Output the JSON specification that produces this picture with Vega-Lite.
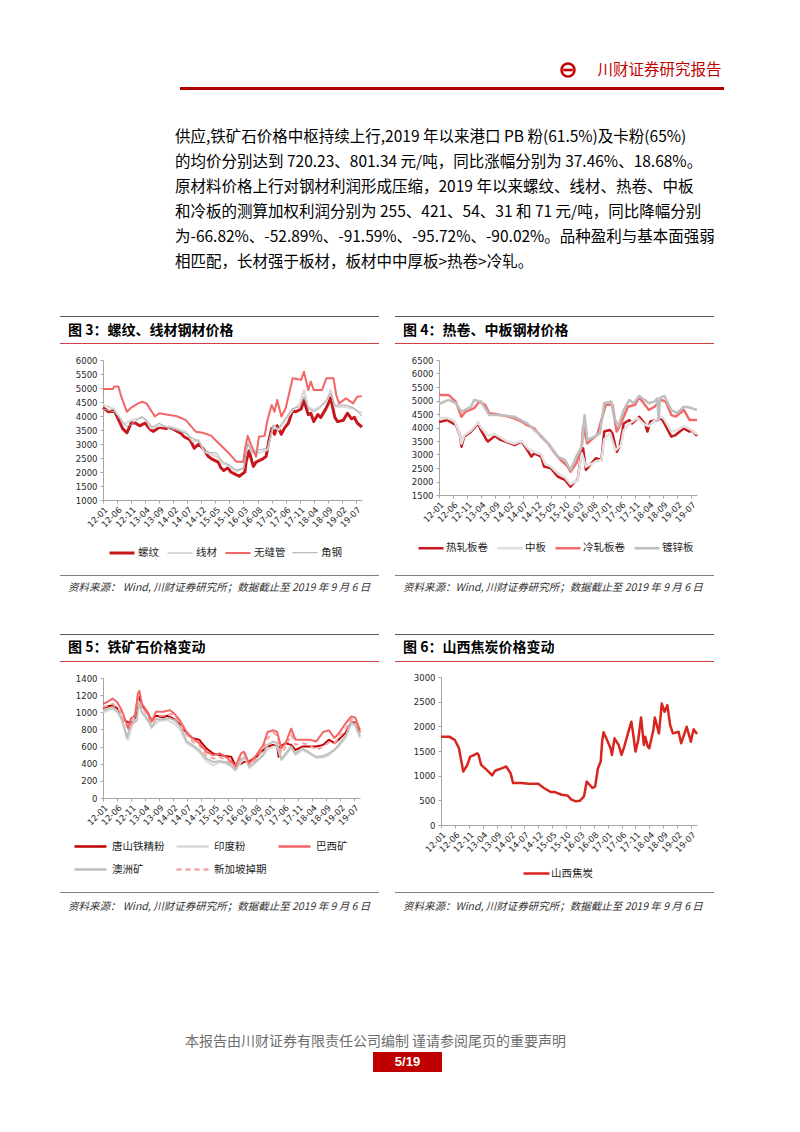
{
"$schema":"https://vega.github.io/schema/vega-lite/v6.json",
"padding":0,
"background":"white",
"spacing":0,
"resolve":{"scale":{"color":"independent","strokeWidth":"independent","strokeDash":"independent"},"legend":{"color":"independent","strokeWidth":"independent","strokeDash":"independent"}},
"config":{
 "view":{"stroke":null},
 "concat":{"spacing":0},
 "axis":{"grid":false,"title":null,"domainColor":"#A6A6A6","tickColor":"#A6A6A6","tickSize":3,"labelFont":"DejaVu Sans","labelFontSize":8.5,"labelColor":"#262626","labelOverlap":false,"labelFlush":false},
 "axisX":{"labelAngle":-45,"labelPadding":2},
 "axisY":{"labelPadding":3,"format":"d"},
 "legend":{"title":null,"labelFont":"Noto Sans CJK SC","labelFontSize":10.5,"labelColor":"#262626","symbolType":"stroke","labelOffset":2,"columnPadding":4,"rowPadding":10,"symbolStrokeWidth":2.5}
},
"vconcat":[
 {"width":800,"height":61,"data":{"values":[]},"mark":"point"},
 {"hconcat":[
   {"width":559,"height":18,"data":{"values":[]},"mark":"point"},
   {"width":18,"height":18,"data":{"values":[{}]},"layer":[
     {"mark":{"type":"point","shape":"circle","filled":true,"color":"#C00000","size":240,"opacity":1}},
     {"mark":{"type":"point","shape":"circle","filled":true,"color":"#FFFFFF","size":110,"opacity":1}},
     {"mark":{"type":"point","shape":"M-1,-0.28L1,-0.28L1,0.28L-1,0.28Z","filled":true,"color":"#C00000","size":90,"opacity":1}}
   ]},
   {"width":18,"height":18,"data":{"values":[]},"mark":"point"},
   {"width":129,"height":18,"data":{"values":[{"t":"川财证券研究报告"}]},"mark":{"type":"text","font":"Noto Sans CJK SC","fontSize":15.5,"color":"#C00000","align":"center","baseline":"middle"},"encoding":{"text":{"field":"t"}}}
 ],"spacing":0},
 {"width":800,"height":8,"data":{"values":[]},"mark":"point"},
 {"hconcat":[
   {"width":180,"height":3,"data":{"values":[]},"mark":"point"},
   {"width":544,"height":3,"view":{"fill":"#B00000"},"data":{"values":[]},"mark":"point"}
 ],"spacing":0},
 {"width":800,"height":34,"data":{"values":[]},"mark":"point"},
 {"hconcat":[
   {"width":175,"height":150,"data":{"values":[]},"mark":"point"},
   {"width":545,"height":150,
    "data":{"values":[
     {"i":1,"t":"供应,铁矿石价格中枢持续上行,2019 年以来港口 PB 粉(61.5%)及卡粉(65%)"},
     {"i":2,"t":"的均价分别达到 720.23、801.34 元/吨，同比涨幅分别为 37.46%、18.68%。"},
     {"i":3,"t":"原材料价格上行对钢材利润形成压缩，2019 年以来螺纹、线材、热卷、中板"},
     {"i":4,"t":"和冷板的测算加权利润分别为 255、421、54、31 和 71 元/吨，同比降幅分别"},
     {"i":5,"t":"为-66.82%、-52.89%、-91.59%、-95.72%、-90.02%。品种盈利与基本面强弱"},
     {"i":6,"t":"相匹配，长材强于板材，板材中中厚板>热卷>冷轧。"}
    ]},
    "mark":{"type":"text","align":"left","baseline":"middle","font":"Noto Sans CJK SC","fontSize":15.5,"color":"#000000"},
    "encoding":{"text":{"field":"t"},
      "y":{"field":"i","type":"ordinal","axis":null,"scale":{"type":"band","paddingInner":0,"paddingOuter":0}},
      "x":{"datum":0,"scale":{"domain":[0,1]},"axis":null}}}
 ],"spacing":0},
 {"width":800,"height":42,"data":{"values":[]},"mark":"point"},
 {"hconcat":[
   {"width":60,"height":284,"data":{"values":[]},"mark":"point"},
   {"vconcat":[
     {"width":319,"height":1,"view":{"fill":"#595959"},"data":{"values":[]},"mark":"point"},
     {"width":319,"height":26,"data":{"values":[{"t":"图 3：螺纹、线材钢材价格"}]},"mark":{"type":"text","align":"left","baseline":"middle","dx":8,"dy":1,"font":"Noto Sans CJK SC","fontSize":14,"fontWeight":"bold","color":"#000000"},"encoding":{"text":{"field":"t"},"x":{"datum":0,"scale":{"domain":[0,1]},"axis":null}}},
     {"width":319,"height":1,"view":{"fill":"#D04040"},"data":{"values":[]},"mark":"point"},
     {"width":319,"height":231,
      "data":{"values":[
{"d":"2012-01-01","s":"螺纹","v":4300},{"d":"2012-03-01","s":"螺纹","v":4150},{"d":"2012-05-01","s":"螺纹","v":4200},{"d":"2012-08-01","s":"螺纹","v":3550},{"d":"2012-09-16","s":"螺纹","v":3400},{"d":"2012-11-01","s":"螺纹","v":3750},{"d":"2012-12-16","s":"螺纹","v":3750},{"d":"2013-02-01","s":"螺纹","v":3650},{"d":"2013-04-01","s":"螺纹","v":3750},{"d":"2013-06-01","s":"螺纹","v":3500},{"d":"2013-07-01","s":"螺纹","v":3450},{"d":"2013-09-01","s":"螺纹","v":3600},{"d":"2013-11-16","s":"螺纹","v":3550},{"d":"2013-12-16","s":"螺纹","v":3600},{"d":"2014-02-16","s":"螺纹","v":3500},{"d":"2014-04-16","s":"螺纹","v":3400},{"d":"2014-06-01","s":"螺纹","v":3250},{"d":"2014-08-01","s":"螺纹","v":3150},{"d":"2014-09-16","s":"螺纹","v":2850},{"d":"2014-11-01","s":"螺纹","v":3000},{"d":"2014-12-16","s":"螺纹","v":2850},{"d":"2015-02-16","s":"螺纹","v":2550},{"d":"2015-04-01","s":"螺纹","v":2450},{"d":"2015-06-01","s":"螺纹","v":2350},{"d":"2015-07-01","s":"螺纹","v":2150},{"d":"2015-08-01","s":"螺纹","v":2050},{"d":"2015-09-16","s":"螺纹","v":2150},{"d":"2015-10-16","s":"螺纹","v":2000},{"d":"2015-12-16","s":"螺纹","v":1900},{"d":"2016-01-16","s":"螺纹","v":1850},{"d":"2016-03-16","s":"螺纹","v":2000},{"d":"2016-04-01","s":"螺纹","v":2400},{"d":"2016-05-01","s":"螺纹","v":2750},{"d":"2016-06-16","s":"螺纹","v":2200},{"d":"2016-07-16","s":"螺纹","v":2350},{"d":"2016-09-16","s":"螺纹","v":2450},{"d":"2016-11-01","s":"螺纹","v":2550},{"d":"2016-12-01","s":"螺纹","v":3100},{"d":"2017-01-01","s":"螺纹","v":3550},{"d":"2017-02-01","s":"螺纹","v":3350},{"d":"2017-03-01","s":"螺纹","v":3650},{"d":"2017-04-16","s":"螺纹","v":3350},{"d":"2017-05-16","s":"螺纹","v":3550},{"d":"2017-07-01","s":"螺纹","v":3750},{"d":"2017-08-16","s":"螺纹","v":4200},{"d":"2017-09-16","s":"螺纹","v":4150},{"d":"2017-11-16","s":"螺纹","v":4250},{"d":"2017-12-16","s":"螺纹","v":4550},{"d":"2018-02-01","s":"螺纹","v":4050},{"d":"2018-03-01","s":"螺纹","v":4100},{"d":"2018-04-01","s":"螺纹","v":3800},{"d":"2018-05-16","s":"螺纹","v":4050},{"d":"2018-06-16","s":"螺纹","v":3950},{"d":"2018-08-01","s":"螺纹","v":4200},{"d":"2018-09-01","s":"螺纹","v":4400},{"d":"2018-10-01","s":"螺纹","v":4650},{"d":"2018-11-16","s":"螺纹","v":3950},{"d":"2018-12-16","s":"螺纹","v":3800},{"d":"2019-02-16","s":"螺纹","v":3850},{"d":"2019-04-01","s":"螺纹","v":4100},{"d":"2019-05-16","s":"螺纹","v":3900},{"d":"2019-06-16","s":"螺纹","v":3950},{"d":"2019-07-16","s":"螺纹","v":3750},{"d":"2019-09-06","s":"螺纹","v":3600},
{"d":"2012-01-01","s":"线材","v":4400},{"d":"2012-05-01","s":"线材","v":4250},{"d":"2012-08-16","s":"线材","v":3700},{"d":"2012-11-01","s":"线材","v":3850},{"d":"2013-02-16","s":"线材","v":3950},{"d":"2013-04-16","s":"线材","v":3850},{"d":"2013-06-01","s":"线材","v":3560},{"d":"2013-09-01","s":"线材","v":3650},{"d":"2013-12-16","s":"线材","v":3620},{"d":"2014-03-01","s":"线材","v":3560},{"d":"2014-06-16","s":"线材","v":3440},{"d":"2014-09-01","s":"线材","v":3080},{"d":"2014-11-01","s":"线材","v":3150},{"d":"2015-01-01","s":"线材","v":2730},{"d":"2015-05-16","s":"线材","v":2550},{"d":"2015-07-16","s":"线材","v":2310},{"d":"2015-10-01","s":"线材","v":2200},{"d":"2015-12-16","s":"线材","v":2010},{"d":"2016-03-01","s":"线材","v":2130},{"d":"2016-04-16","s":"线材","v":3080},{"d":"2016-06-01","s":"线材","v":2670},{"d":"2016-09-01","s":"线材","v":2700},{"d":"2016-11-16","s":"线材","v":2790},{"d":"2017-01-16","s":"线材","v":3620},{"d":"2017-03-16","s":"线材","v":3500},{"d":"2017-06-01","s":"线材","v":3860},{"d":"2017-08-16","s":"线材","v":4210},{"d":"2017-11-01","s":"线材","v":4450},{"d":"2017-12-16","s":"线材","v":4930},{"d":"2018-02-01","s":"线材","v":4330},{"d":"2018-04-01","s":"线材","v":4210},{"d":"2018-06-01","s":"线材","v":4330},{"d":"2018-08-16","s":"线材","v":4510},{"d":"2018-10-01","s":"线材","v":4930},{"d":"2018-11-16","s":"线材","v":4330},{"d":"2019-02-16","s":"线材","v":4330},{"d":"2019-06-01","s":"线材","v":4270},{"d":"2019-09-06","s":"线材","v":4100},
{"d":"2012-01-01","s":"无缝管","v":4960},{"d":"2012-04-16","s":"无缝管","v":4960},{"d":"2012-05-01","s":"无缝管","v":5050},{"d":"2012-06-16","s":"无缝管","v":5050},{"d":"2012-07-16","s":"无缝管","v":4700},{"d":"2012-09-16","s":"无缝管","v":4150},{"d":"2012-11-01","s":"无缝管","v":4300},{"d":"2013-01-16","s":"无缝管","v":4450},{"d":"2013-03-01","s":"无缝管","v":4510},{"d":"2013-04-16","s":"无缝管","v":4450},{"d":"2013-05-16","s":"无缝管","v":4300},{"d":"2013-07-16","s":"无缝管","v":3980},{"d":"2013-09-01","s":"无缝管","v":4100},{"d":"2013-11-16","s":"无缝管","v":4050},{"d":"2014-03-01","s":"无缝管","v":4000},{"d":"2014-05-16","s":"无缝管","v":3900},{"d":"2014-06-16","s":"无缝管","v":3850},{"d":"2014-10-01","s":"无缝管","v":3440},{"d":"2014-12-16","s":"无缝管","v":3400},{"d":"2015-03-16","s":"无缝管","v":3300},{"d":"2015-05-16","s":"无缝管","v":3100},{"d":"2015-07-16","s":"无缝管","v":2900},{"d":"2015-10-01","s":"无缝管","v":2650},{"d":"2015-12-16","s":"无缝管","v":2370},{"d":"2016-03-01","s":"无缝管","v":2370},{"d":"2016-03-16","s":"无缝管","v":2800},{"d":"2016-04-16","s":"无缝管","v":3290},{"d":"2016-05-16","s":"无缝管","v":3020},{"d":"2016-07-16","s":"无缝管","v":2550},{"d":"2016-08-16","s":"无缝管","v":3260},{"d":"2016-10-16","s":"无缝管","v":3290},{"d":"2016-11-16","s":"无缝管","v":3850},{"d":"2017-01-01","s":"无缝管","v":4390},{"d":"2017-02-01","s":"无缝管","v":4150},{"d":"2017-03-01","s":"无缝管","v":4570},{"d":"2017-04-16","s":"无缝管","v":3980},{"d":"2017-06-01","s":"无缝管","v":4270},{"d":"2017-08-16","s":"无缝管","v":5350},{"d":"2017-10-16","s":"无缝管","v":5310},{"d":"2017-11-16","s":"无缝管","v":5290},{"d":"2017-12-16","s":"无缝管","v":5580},{"d":"2018-02-01","s":"无缝管","v":4930},{"d":"2018-03-01","s":"无缝管","v":5230},{"d":"2018-04-01","s":"无缝管","v":4930},{"d":"2018-07-01","s":"无缝管","v":4930},{"d":"2018-08-16","s":"无缝管","v":5350},{"d":"2018-11-01","s":"无缝管","v":5350},{"d":"2018-12-01","s":"无缝管","v":4750},{"d":"2019-01-01","s":"无缝管","v":4450},{"d":"2019-03-16","s":"无缝管","v":4630},{"d":"2019-06-01","s":"无缝管","v":4450},{"d":"2019-07-16","s":"无缝管","v":4690},{"d":"2019-09-06","s":"无缝管","v":4710},
{"d":"2012-01-01","s":"角钢","v":4250},{"d":"2012-05-01","s":"角钢","v":4150},{"d":"2012-09-16","s":"角钢","v":3620},{"d":"2012-11-01","s":"角钢","v":3700},{"d":"2013-03-01","s":"角钢","v":3980},{"d":"2013-04-16","s":"角钢","v":3850},{"d":"2013-06-16","s":"角钢","v":3600},{"d":"2013-09-01","s":"角钢","v":3740},{"d":"2013-12-01","s":"角钢","v":3560},{"d":"2014-03-01","s":"角钢","v":3500},{"d":"2014-06-16","s":"角钢","v":3380},{"d":"2014-09-01","s":"角钢","v":3200},{"d":"2014-11-01","s":"角钢","v":3100},{"d":"2015-01-16","s":"角钢","v":2730},{"d":"2015-05-16","s":"角钢","v":2670},{"d":"2015-07-16","s":"角钢","v":2370},{"d":"2015-10-01","s":"角钢","v":2250},{"d":"2015-12-16","s":"角钢","v":2070},{"d":"2016-03-01","s":"角钢","v":2130},{"d":"2016-04-16","s":"角钢","v":3000},{"d":"2016-06-01","s":"角钢","v":2730},{"d":"2016-11-16","s":"角钢","v":2850},{"d":"2017-01-16","s":"角钢","v":3680},{"d":"2017-03-16","s":"角钢","v":3560},{"d":"2017-06-01","s":"角钢","v":3920},{"d":"2017-08-16","s":"角钢","v":4270},{"d":"2017-11-01","s":"角钢","v":4330},{"d":"2017-12-16","s":"角钢","v":4690},{"d":"2018-02-01","s":"角钢","v":4270},{"d":"2018-04-01","s":"角钢","v":4150},{"d":"2018-06-01","s":"角钢","v":4270},{"d":"2018-08-16","s":"角钢","v":4570},{"d":"2018-10-01","s":"角钢","v":4810},{"d":"2018-11-16","s":"角钢","v":4390},{"d":"2019-03-16","s":"角钢","v":4390},{"d":"2019-06-01","s":"角钢","v":4300},{"d":"2019-09-06","s":"角钢","v":4000}
      ]},
      "mark":{"type":"line","strokeJoin":"round"},
      "encoding":{
        "x":{"field":"d","type":"temporal","scale":{"domain":[{"year":2012,"month":1,"date":1},{"year":2019,"month":9,"date":6}],"range":[43,302]},
             "axis":{"orient":"bottom","offset":-75,"format":"%y-%m","labelAngle":-45,
               "values":[{"year":2012,"month":1,"date":1},{"year":2012,"month":6,"date":1},{"year":2012,"month":11,"date":1},{"year":2013,"month":4,"date":1},{"year":2013,"month":9,"date":1},{"year":2014,"month":2,"date":1},{"year":2014,"month":7,"date":1},{"year":2014,"month":12,"date":1},{"year":2015,"month":5,"date":1},{"year":2015,"month":10,"date":1},{"year":2016,"month":3,"date":1},{"year":2016,"month":8,"date":1},{"year":2017,"month":1,"date":1},{"year":2017,"month":6,"date":1},{"year":2017,"month":11,"date":1},{"year":2018,"month":4,"date":1},{"year":2018,"month":9,"date":1},{"year":2019,"month":2,"date":1},{"year":2019,"month":7,"date":1}]}},
        "y":{"field":"v","type":"quantitative","scale":{"domain":[1000,6000],"range":[156,16],"nice":false,"zero":false},"axis":{"orient":"left","offset":-43,"format":"d","values":[1000,1500,2000,2500,3000,3500,4000,4500,5000,5500,6000]}},
        "color":{"field":"s","type":"nominal","scale":{"domain":["螺纹","线材","无缝管","角钢"],"range":["#C8161D","#D9D9D9","#F26666","#A6A6A6"]},"legend":{"orient":"none","legendX":48,"legendY":195,"columns":4,"direction":"horizontal","symbolSize":625}},
        "strokeWidth":{"field":"s","type":"nominal","scale":{"type":"ordinal","domain":["螺纹","线材","无缝管","角钢"],"range":[3,2,2,1]},"legend":{"orient":"none","legendX":48,"legendY":195,"columns":4,"direction":"horizontal","symbolSize":625}}
      }},
     {"width":319,"height":1,"view":{"fill":"#808080"},"data":{"values":[]},"mark":"point"},
     {"width":319,"height":24,"data":{"values":[{"t":"资料来源： Wind, 川财证券研究所；数据截止至 2019 年 9 月 6 日"}]},"mark":{"type":"text","align":"left","baseline":"middle","dx":8,"font":"Noto Sans CJK SC","fontSize":10.5,"fontStyle":"italic","color":"#333333"},"encoding":{"text":{"field":"t"},"x":{"datum":0,"scale":{"domain":[0,1]},"axis":null}}}
   ],"spacing":0,"resolve":{"scale":{"color":"independent","strokeWidth":"independent","strokeDash":"independent"},"legend":{"color":"independent","strokeWidth":"independent","strokeDash":"independent"}}},
   {"width":16,"height":284,"data":{"values":[]},"mark":"point"},
   {"vconcat":[
     {"width":319,"height":1,"view":{"fill":"#595959"},"data":{"values":[]},"mark":"point"},
     {"width":319,"height":26,"data":{"values":[{"t":"图 4：热卷、中板钢材价格"}]},"mark":{"type":"text","align":"left","baseline":"middle","dx":8,"dy":1,"font":"Noto Sans CJK SC","fontSize":14,"fontWeight":"bold","color":"#000000"},"encoding":{"text":{"field":"t"},"x":{"datum":0,"scale":{"domain":[0,1]},"axis":null}}},
     {"width":319,"height":1,"view":{"fill":"#D04040"},"data":{"values":[]},"mark":"point"},
     {"width":319,"height":231,
      "data":{"values":[
{"d":"2012-01-01","s":"热轧板卷","v":4200},{"d":"2012-04-01","s":"热轧板卷","v":4280},{"d":"2012-06-01","s":"热轧板卷","v":4150},{"d":"2012-07-01","s":"热轧板卷","v":4100},{"d":"2012-08-16","s":"热轧板卷","v":3720},{"d":"2012-09-01","s":"热轧板卷","v":3290},{"d":"2012-10-01","s":"热轧板卷","v":3660},{"d":"2012-12-16","s":"热轧板卷","v":3850},{"d":"2013-03-01","s":"热轧板卷","v":4150},{"d":"2013-04-01","s":"热轧板卷","v":3900},{"d":"2013-06-01","s":"热轧板卷","v":3540},{"d":"2013-06-16","s":"热轧板卷","v":3480},{"d":"2013-09-01","s":"热轧板卷","v":3690},{"d":"2013-11-01","s":"热轧板卷","v":3540},{"d":"2014-01-16","s":"热轧板卷","v":3450},{"d":"2014-04-01","s":"热轧板卷","v":3350},{"d":"2014-06-16","s":"热轧板卷","v":3480},{"d":"2014-08-16","s":"热轧板卷","v":3170},{"d":"2014-10-01","s":"热轧板卷","v":2920},{"d":"2014-11-01","s":"热轧板卷","v":3040},{"d":"2015-01-16","s":"热轧板卷","v":2920},{"d":"2015-02-16","s":"热轧板卷","v":2550},{"d":"2015-05-01","s":"热轧板卷","v":2490},{"d":"2015-07-16","s":"热轧板卷","v":2180},{"d":"2015-10-01","s":"热轧板卷","v":2060},{"d":"2015-12-01","s":"热轧板卷","v":1810},{"d":"2016-01-16","s":"热轧板卷","v":1990},{"d":"2016-02-16","s":"热轧板卷","v":2060},{"d":"2016-04-01","s":"热轧板卷","v":3170},{"d":"2016-04-16","s":"热轧板卷","v":3230},{"d":"2016-05-16","s":"热轧板卷","v":2430},{"d":"2016-07-16","s":"热轧板卷","v":2670},{"d":"2016-09-01","s":"热轧板卷","v":2860},{"d":"2016-11-01","s":"热轧板卷","v":2800},{"d":"2016-12-01","s":"热轧板卷","v":3850},{"d":"2017-02-01","s":"热轧板卷","v":3910},{"d":"2017-03-01","s":"热轧板卷","v":3780},{"d":"2017-04-16","s":"热轧板卷","v":3100},{"d":"2017-05-16","s":"热轧板卷","v":3290},{"d":"2017-07-01","s":"热轧板卷","v":4150},{"d":"2017-09-01","s":"热轧板卷","v":4280},{"d":"2017-10-01","s":"热轧板卷","v":4150},{"d":"2017-12-01","s":"热轧板卷","v":4340},{"d":"2017-12-16","s":"热轧板卷","v":4400},{"d":"2018-02-16","s":"热轧板卷","v":4150},{"d":"2018-03-16","s":"热轧板卷","v":3850},{"d":"2018-04-16","s":"热轧板卷","v":4220},{"d":"2018-07-01","s":"热轧板卷","v":4280},{"d":"2018-08-16","s":"热轧板卷","v":4340},{"d":"2018-09-16","s":"热轧板卷","v":4150},{"d":"2018-12-01","s":"热轧板卷","v":3660},{"d":"2019-01-16","s":"热轧板卷","v":3720},{"d":"2019-04-16","s":"热轧板卷","v":3970},{"d":"2019-06-16","s":"热轧板卷","v":3850},{"d":"2019-07-16","s":"热轧板卷","v":3880},{"d":"2019-09-06","s":"热轧板卷","v":3690},
{"d":"2012-01-01","s":"中板","v":4350},{"d":"2012-04-01","s":"中板","v":4350},{"d":"2012-06-16","s":"中板","v":4250},{"d":"2012-08-16","s":"中板","v":3750},{"d":"2012-09-01","s":"中板","v":3400},{"d":"2012-10-01","s":"中板","v":3700},{"d":"2012-12-16","s":"中板","v":3900},{"d":"2013-03-01","s":"中板","v":4200},{"d":"2013-04-01","s":"中板","v":4000},{"d":"2013-06-16","s":"中板","v":3700},{"d":"2013-09-01","s":"中板","v":3750},{"d":"2014-01-01","s":"中板","v":3500},{"d":"2014-04-01","s":"中板","v":3400},{"d":"2014-06-16","s":"中板","v":3500},{"d":"2014-09-01","s":"中板","v":3200},{"d":"2014-11-01","s":"中板","v":3100},{"d":"2015-01-16","s":"中板","v":3000},{"d":"2015-03-01","s":"中板","v":2650},{"d":"2015-05-01","s":"中板","v":2550},{"d":"2015-07-16","s":"中板","v":2300},{"d":"2015-10-01","s":"中板","v":2150},{"d":"2015-12-01","s":"中板","v":1900},{"d":"2016-02-16","s":"中板","v":2050},{"d":"2016-04-01","s":"中板","v":3050},{"d":"2016-05-16","s":"中板","v":2550},{"d":"2016-07-16","s":"中板","v":2650},{"d":"2016-09-01","s":"中板","v":2750},{"d":"2016-11-01","s":"中板","v":2800},{"d":"2016-12-01","s":"中板","v":3550},{"d":"2017-02-01","s":"中板","v":3800},{"d":"2017-04-01","s":"中板","v":3150},{"d":"2017-06-01","s":"中板","v":3350},{"d":"2017-07-01","s":"中板","v":3900},{"d":"2017-09-01","s":"中板","v":4150},{"d":"2017-12-01","s":"中板","v":4350},{"d":"2018-02-16","s":"中板","v":4100},{"d":"2018-04-01","s":"中板","v":4050},{"d":"2018-06-01","s":"中板","v":4250},{"d":"2018-08-16","s":"中板","v":4400},{"d":"2018-09-16","s":"中板","v":4300},{"d":"2018-12-01","s":"中板","v":3850},{"d":"2019-02-01","s":"中板","v":3900},{"d":"2019-04-16","s":"中板","v":4050},{"d":"2019-06-16","s":"中板","v":3950},{"d":"2019-09-06","s":"中板","v":3750},
{"d":"2012-01-01","s":"冷轧板卷","v":5200},{"d":"2012-04-16","s":"冷轧板卷","v":5200},{"d":"2012-07-01","s":"冷轧板卷","v":4960},{"d":"2012-09-01","s":"冷轧板卷","v":4400},{"d":"2012-10-16","s":"冷轧板卷","v":4590},{"d":"2013-01-16","s":"冷轧板卷","v":4710},{"d":"2013-03-16","s":"冷轧板卷","v":4960},{"d":"2013-05-16","s":"冷轧板卷","v":4840},{"d":"2013-07-01","s":"冷轧板卷","v":4530},{"d":"2013-09-01","s":"冷轧板卷","v":4500},{"d":"2013-12-16","s":"冷轧板卷","v":4430},{"d":"2014-04-01","s":"冷轧板卷","v":4340},{"d":"2014-06-16","s":"冷轧板卷","v":4220},{"d":"2014-08-16","s":"冷轧板卷","v":4090},{"d":"2014-11-01","s":"冷轧板卷","v":3970},{"d":"2015-01-16","s":"冷轧板卷","v":3660},{"d":"2015-04-01","s":"冷轧板卷","v":3410},{"d":"2015-06-16","s":"冷轧板卷","v":3040},{"d":"2015-08-16","s":"冷轧板卷","v":2800},{"d":"2015-11-01","s":"冷轧板卷","v":2550},{"d":"2015-12-01","s":"冷轧板卷","v":2360},{"d":"2016-02-01","s":"冷轧板卷","v":2670},{"d":"2016-04-01","s":"冷轧板卷","v":3290},{"d":"2016-04-16","s":"冷轧板卷","v":4030},{"d":"2016-06-01","s":"冷轧板卷","v":3410},{"d":"2016-08-01","s":"冷轧板卷","v":3600},{"d":"2016-09-16","s":"冷轧板卷","v":3720},{"d":"2016-11-16","s":"冷轧板卷","v":4460},{"d":"2016-12-16","s":"冷轧板卷","v":4840},{"d":"2017-03-01","s":"冷轧板卷","v":4840},{"d":"2017-04-16","s":"冷轧板卷","v":3850},{"d":"2017-06-01","s":"冷轧板卷","v":4150},{"d":"2017-08-16","s":"冷轧板卷","v":4770},{"d":"2017-11-01","s":"冷轧板卷","v":4840},{"d":"2017-12-16","s":"冷轧板卷","v":5120},{"d":"2018-02-16","s":"冷轧板卷","v":4840},{"d":"2018-04-01","s":"冷轧板卷","v":4650},{"d":"2018-06-01","s":"冷轧板卷","v":4770},{"d":"2018-08-16","s":"冷轧板卷","v":5020},{"d":"2018-10-01","s":"冷轧板卷","v":4960},{"d":"2018-12-01","s":"冷轧板卷","v":4460},{"d":"2019-01-16","s":"冷轧板卷","v":4400},{"d":"2019-04-16","s":"冷轧板卷","v":4650},{"d":"2019-06-16","s":"冷轧板卷","v":4280},{"d":"2019-09-06","s":"冷轧板卷","v":4280},
{"d":"2012-01-01","s":"镀锌板","v":4870},{"d":"2012-04-16","s":"镀锌板","v":5020},{"d":"2012-07-01","s":"镀锌板","v":4900},{"d":"2012-09-01","s":"镀锌板","v":4590},{"d":"2012-12-16","s":"镀锌板","v":4770},{"d":"2013-01-16","s":"镀锌板","v":5020},{"d":"2013-04-01","s":"镀锌板","v":4960},{"d":"2013-07-01","s":"镀锌板","v":4460},{"d":"2013-11-01","s":"镀锌板","v":4460},{"d":"2014-04-01","s":"镀锌板","v":4400},{"d":"2014-08-16","s":"镀锌板","v":4150},{"d":"2014-11-01","s":"镀锌板","v":3910},{"d":"2015-01-16","s":"镀锌板","v":3700},{"d":"2015-05-01","s":"镀锌板","v":3290},{"d":"2015-07-16","s":"镀锌板","v":2920},{"d":"2015-10-01","s":"镀锌板","v":2800},{"d":"2015-12-01","s":"镀锌板","v":2430},{"d":"2016-02-01","s":"镀锌板","v":2920},{"d":"2016-04-01","s":"镀锌板","v":3290},{"d":"2016-05-01","s":"镀锌板","v":4460},{"d":"2016-06-01","s":"镀锌板","v":3540},{"d":"2016-08-16","s":"镀锌板","v":3660},{"d":"2016-10-16","s":"镀锌板","v":3790},{"d":"2016-12-01","s":"镀锌板","v":4900},{"d":"2017-02-16","s":"镀锌板","v":4960},{"d":"2017-03-16","s":"镀锌板","v":4400},{"d":"2017-05-01","s":"镀锌板","v":4030},{"d":"2017-07-01","s":"镀锌板","v":4650},{"d":"2017-09-01","s":"镀锌板","v":5020},{"d":"2017-10-16","s":"镀锌板","v":4900},{"d":"2017-12-16","s":"镀锌板","v":5170},{"d":"2018-02-16","s":"镀锌板","v":5020},{"d":"2018-04-01","s":"镀锌板","v":4900},{"d":"2018-06-01","s":"镀锌板","v":4960},{"d":"2018-07-01","s":"镀锌板","v":5080},{"d":"2018-07-16","s":"镀锌板","v":4280},{"d":"2018-08-01","s":"镀锌板","v":5100},{"d":"2018-09-16","s":"镀锌板","v":5170},{"d":"2018-12-01","s":"镀锌板","v":4650},{"d":"2019-02-01","s":"镀锌板","v":4530},{"d":"2019-04-16","s":"镀锌板","v":4770},{"d":"2019-06-16","s":"镀锌板","v":4740},{"d":"2019-09-06","s":"镀锌板","v":4650}
      ]},
      "mark":{"type":"line","strokeJoin":"round","strokeWidth":2.5},
      "encoding":{
        "x":{"field":"d","type":"temporal","scale":{"domain":[{"year":2012,"month":1,"date":1},{"year":2019,"month":9,"date":6}],"range":[44,302]},
             "axis":{"orient":"bottom","offset":-80,"format":"%y-%m","labelAngle":-45,
               "values":[{"year":2012,"month":1,"date":1},{"year":2012,"month":6,"date":1},{"year":2012,"month":11,"date":1},{"year":2013,"month":4,"date":1},{"year":2013,"month":9,"date":1},{"year":2014,"month":2,"date":1},{"year":2014,"month":7,"date":1},{"year":2014,"month":12,"date":1},{"year":2015,"month":5,"date":1},{"year":2015,"month":10,"date":1},{"year":2016,"month":3,"date":1},{"year":2016,"month":8,"date":1},{"year":2017,"month":1,"date":1},{"year":2017,"month":6,"date":1},{"year":2017,"month":11,"date":1},{"year":2018,"month":4,"date":1},{"year":2018,"month":9,"date":1},{"year":2019,"month":2,"date":1},{"year":2019,"month":7,"date":1}]}},
        "y":{"field":"v","type":"quantitative","scale":{"domain":[1500,6500],"range":[151,16],"nice":false,"zero":false},"axis":{"orient":"left","offset":-44,"format":"d","values":[1500,2000,2500,3000,3500,4000,4500,5000,5500,6000,6500]}},
        "color":{"field":"s","type":"nominal","scale":{"domain":["热轧板卷","中板","冷轧板卷","镀锌板"],"range":["#C8161D","#E0E0E0","#F26B6B","#BFBFBF"]},"legend":{"orient":"none","legendX":22,"legendY":190,"columns":4,"direction":"horizontal","symbolSize":625,"labelOffset":1}}
      }},
     {"width":319,"height":1,"view":{"fill":"#808080"},"data":{"values":[]},"mark":"point"},
     {"width":319,"height":24,"data":{"values":[{"t":"资料来源：Wind, 川财证券研究所；数据截止至 2019 年 9 月 6 日"}]},"mark":{"type":"text","align":"left","baseline":"middle","dx":8,"font":"Noto Sans CJK SC","fontSize":10.5,"fontStyle":"italic","color":"#333333"},"encoding":{"text":{"field":"t"},"x":{"datum":0,"scale":{"domain":[0,1]},"axis":null}}}
   ],"spacing":0,"resolve":{"scale":{"color":"independent","strokeWidth":"independent","strokeDash":"independent"},"legend":{"color":"independent","strokeWidth":"independent","strokeDash":"independent"}}}
 ],"spacing":0,"resolve":{"scale":{"color":"independent","strokeWidth":"independent","strokeDash":"independent"},"legend":{"color":"independent","strokeWidth":"independent","strokeDash":"independent"}}},
 {"width":800,"height":34,"data":{"values":[]},"mark":"point"},
 {"hconcat":[
   {"width":60,"height":287,"data":{"values":[]},"mark":"point"},
   {"vconcat":[
     {"width":319,"height":1,"view":{"fill":"#595959"},"data":{"values":[]},"mark":"point"},
     {"width":319,"height":26,"data":{"values":[{"t":"图 5：铁矿石价格变动"}]},"mark":{"type":"text","align":"left","baseline":"middle","dx":8,"font":"Noto Sans CJK SC","fontSize":14,"fontWeight":"bold","color":"#000000"},"encoding":{"text":{"field":"t"},"x":{"datum":0,"scale":{"domain":[0,1]},"axis":null}}},
     {"width":319,"height":1,"view":{"fill":"#D04040"},"data":{"values":[]},"mark":"point"},
     {"width":319,"height":230,
      "data":{"values":[
{"d":"2012-01-01","s":"唐山铁精粉","v":1050},{"d":"2012-04-01","s":"唐山铁精粉","v":1080},{"d":"2012-06-01","s":"唐山铁精粉","v":1050},{"d":"2012-07-16","s":"唐山铁精粉","v":940},{"d":"2012-09-01","s":"唐山铁精粉","v":900},{"d":"2012-11-01","s":"唐山铁精粉","v":870},{"d":"2013-01-01","s":"唐山铁精粉","v":960},{"d":"2013-02-01","s":"唐山铁精粉","v":1180},{"d":"2013-03-01","s":"唐山铁精粉","v":1080},{"d":"2013-05-01","s":"唐山铁精粉","v":1000},{"d":"2013-06-16","s":"唐山铁精粉","v":900},{"d":"2013-08-01","s":"唐山铁精粉","v":960},{"d":"2013-10-16","s":"唐山铁精粉","v":940},{"d":"2013-12-01","s":"唐山铁精粉","v":960},{"d":"2014-02-01","s":"唐山铁精粉","v":930},{"d":"2014-04-01","s":"唐山铁精粉","v":880},{"d":"2014-06-16","s":"唐山铁精粉","v":780},{"d":"2014-09-01","s":"唐山铁精粉","v":700},{"d":"2014-11-16","s":"唐山铁精粉","v":680},{"d":"2015-02-01","s":"唐山铁精粉","v":580},{"d":"2015-04-16","s":"唐山铁精粉","v":520},{"d":"2015-07-01","s":"唐山铁精粉","v":500},{"d":"2015-09-01","s":"唐山铁精粉","v":490},{"d":"2015-11-01","s":"唐山铁精粉","v":480},{"d":"2015-12-16","s":"唐山铁精粉","v":380},{"d":"2016-02-16","s":"唐山铁精粉","v":400},{"d":"2016-03-16","s":"唐山铁精粉","v":420},{"d":"2016-05-16","s":"唐山铁精粉","v":430},{"d":"2016-08-01","s":"唐山铁精粉","v":480},{"d":"2016-10-16","s":"唐山铁精粉","v":560},{"d":"2016-12-01","s":"唐山铁精粉","v":600},{"d":"2017-02-01","s":"唐山铁精粉","v":620},{"d":"2017-03-16","s":"唐山铁精粉","v":600},{"d":"2017-04-01","s":"唐山铁精粉","v":480},{"d":"2017-04-16","s":"唐山铁精粉","v":600},{"d":"2017-06-16","s":"唐山铁精粉","v":640},{"d":"2017-08-16","s":"唐山铁精粉","v":620},{"d":"2017-10-01","s":"唐山铁精粉","v":560},{"d":"2017-12-16","s":"唐山铁精粉","v":600},{"d":"2018-03-01","s":"唐山铁精粉","v":600},{"d":"2018-05-16","s":"唐山铁精粉","v":600},{"d":"2018-08-01","s":"唐山铁精粉","v":620},{"d":"2018-10-01","s":"唐山铁精粉","v":680},{"d":"2018-12-01","s":"唐山铁精粉","v":640},{"d":"2019-01-16","s":"唐山铁精粉","v":680},{"d":"2019-04-01","s":"唐山铁精粉","v":760},{"d":"2019-06-01","s":"唐山铁精粉","v":880},{"d":"2019-07-16","s":"唐山铁精粉","v":880},{"d":"2019-09-06","s":"唐山铁精粉","v":760},
{"d":"2012-01-01","s":"印度粉","v":1000},{"d":"2012-04-16","s":"印度粉","v":1040},{"d":"2012-07-01","s":"印度粉","v":980},{"d":"2012-09-01","s":"印度粉","v":780},{"d":"2012-10-01","s":"印度粉","v":680},{"d":"2012-11-16","s":"印度粉","v":860},{"d":"2013-01-16","s":"印度粉","v":1140},{"d":"2013-03-01","s":"印度粉","v":1000},{"d":"2013-05-01","s":"印度粉","v":900},{"d":"2013-07-01","s":"印度粉","v":840},{"d":"2013-09-01","s":"印度粉","v":900},{"d":"2013-12-01","s":"印度粉","v":910},{"d":"2014-03-01","s":"印度粉","v":860},{"d":"2014-05-01","s":"印度粉","v":780},{"d":"2014-07-01","s":"印度粉","v":640},{"d":"2014-10-01","s":"印度粉","v":580},{"d":"2014-12-01","s":"印度粉","v":520},{"d":"2015-02-01","s":"印度粉","v":430},{"d":"2015-04-16","s":"印度粉","v":380},{"d":"2015-07-01","s":"印度粉","v":420},{"d":"2015-09-01","s":"印度粉","v":400},{"d":"2015-11-01","s":"印度粉","v":370},{"d":"2015-12-16","s":"印度粉","v":320},{"d":"2016-02-16","s":"印度粉","v":420},{"d":"2016-04-01","s":"印度粉","v":460},{"d":"2016-05-16","s":"印度粉","v":350},{"d":"2016-08-01","s":"印度粉","v":420},{"d":"2016-10-16","s":"印度粉","v":500},{"d":"2016-12-01","s":"印度粉","v":560},{"d":"2017-02-01","s":"印度粉","v":600},{"d":"2017-03-16","s":"印度粉","v":600},{"d":"2017-05-01","s":"印度粉","v":440},{"d":"2017-06-16","s":"印度粉","v":500},{"d":"2017-08-16","s":"印度粉","v":580},{"d":"2017-10-01","s":"印度粉","v":500},{"d":"2017-12-16","s":"印度粉","v":560},{"d":"2018-03-01","s":"印度粉","v":520},{"d":"2018-05-16","s":"印度粉","v":470},{"d":"2018-08-01","s":"印度粉","v":470},{"d":"2018-10-01","s":"印度粉","v":500},{"d":"2018-12-01","s":"印度粉","v":560},{"d":"2019-01-16","s":"印度粉","v":600},{"d":"2019-04-01","s":"印度粉","v":700},{"d":"2019-06-01","s":"印度粉","v":860},{"d":"2019-07-16","s":"印度粉","v":840},{"d":"2019-09-06","s":"印度粉","v":700},
{"d":"2012-01-01","s":"澳洲矿","v":1020},{"d":"2012-04-16","s":"澳洲矿","v":1060},{"d":"2012-06-01","s":"澳洲矿","v":1020},{"d":"2012-08-01","s":"澳洲矿","v":900},{"d":"2012-09-16","s":"澳洲矿","v":700},{"d":"2012-11-01","s":"澳洲矿","v":860},{"d":"2013-01-01","s":"澳洲矿","v":900},{"d":"2013-02-01","s":"澳洲矿","v":1120},{"d":"2013-03-01","s":"澳洲矿","v":1000},{"d":"2013-05-01","s":"澳洲矿","v":920},{"d":"2013-06-16","s":"澳洲矿","v":820},{"d":"2013-08-01","s":"澳洲矿","v":920},{"d":"2013-10-16","s":"澳洲矿","v":920},{"d":"2014-01-01","s":"澳洲矿","v":930},{"d":"2014-03-01","s":"澳洲矿","v":900},{"d":"2014-05-01","s":"澳洲矿","v":820},{"d":"2014-07-01","s":"澳洲矿","v":660},{"d":"2014-09-01","s":"澳洲矿","v":620},{"d":"2014-11-16","s":"澳洲矿","v":560},{"d":"2015-02-01","s":"澳洲矿","v":460},{"d":"2015-04-16","s":"澳洲矿","v":420},{"d":"2015-07-01","s":"澳洲矿","v":430},{"d":"2015-09-01","s":"澳洲矿","v":420},{"d":"2015-11-01","s":"澳洲矿","v":380},{"d":"2015-12-16","s":"澳洲矿","v":330},{"d":"2016-02-16","s":"澳洲矿","v":450},{"d":"2016-04-01","s":"澳洲矿","v":480},{"d":"2016-05-16","s":"澳洲矿","v":370},{"d":"2016-08-01","s":"澳洲矿","v":430},{"d":"2016-10-16","s":"澳洲矿","v":500},{"d":"2016-12-01","s":"澳洲矿","v":620},{"d":"2017-02-01","s":"澳洲矿","v":660},{"d":"2017-03-16","s":"澳洲矿","v":640},{"d":"2017-05-01","s":"澳洲矿","v":450},{"d":"2017-06-16","s":"澳洲矿","v":520},{"d":"2017-08-16","s":"澳洲矿","v":600},{"d":"2017-10-01","s":"澳洲矿","v":520},{"d":"2017-12-16","s":"澳洲矿","v":580},{"d":"2018-03-01","s":"澳洲矿","v":530},{"d":"2018-05-16","s":"澳洲矿","v":480},{"d":"2018-08-01","s":"澳洲矿","v":490},{"d":"2018-10-01","s":"澳洲矿","v":520},{"d":"2018-12-01","s":"澳洲矿","v":560},{"d":"2019-01-16","s":"澳洲矿","v":620},{"d":"2019-04-01","s":"澳洲矿","v":720},{"d":"2019-06-01","s":"澳洲矿","v":880},{"d":"2019-07-16","s":"澳洲矿","v":860},{"d":"2019-09-06","s":"澳洲矿","v":720},
{"d":"2012-01-01","s":"新加坡掉期","v":1060},{"d":"2012-04-16","s":"新加坡掉期","v":1100},{"d":"2012-07-01","s":"新加坡掉期","v":1020},{"d":"2012-09-01","s":"新加坡掉期","v":860},{"d":"2012-10-16","s":"新加坡掉期","v":800},{"d":"2012-12-01","s":"新加坡掉期","v":900},{"d":"2013-01-16","s":"新加坡掉期","v":1180},{"d":"2013-03-01","s":"新加坡掉期","v":1060},{"d":"2013-05-01","s":"新加坡掉期","v":960},{"d":"2013-06-16","s":"新加坡掉期","v":870},{"d":"2013-08-16","s":"新加坡掉期","v":960},{"d":"2013-11-01","s":"新加坡掉期","v":960},{"d":"2014-01-16","s":"新加坡掉期","v":980},{"d":"2014-04-01","s":"新加坡掉期","v":900},{"d":"2014-06-16","s":"新加坡掉期","v":760},{"d":"2014-09-01","s":"新加坡掉期","v":660},{"d":"2014-11-16","s":"新加坡掉期","v":620},{"d":"2015-02-01","s":"新加坡掉期","v":500},{"d":"2015-04-16","s":"新加坡掉期","v":460},{"d":"2015-07-01","s":"新加坡掉期","v":480},{"d":"2015-09-01","s":"新加坡掉期","v":440},{"d":"2015-11-01","s":"新加坡掉期","v":400},{"d":"2015-12-16","s":"新加坡掉期","v":350},{"d":"2016-02-16","s":"新加坡掉期","v":480},{"d":"2016-04-01","s":"新加坡掉期","v":520},{"d":"2016-05-16","s":"新加坡掉期","v":390},{"d":"2016-08-01","s":"新加坡掉期","v":460},{"d":"2016-10-16","s":"新加坡掉期","v":560},{"d":"2016-12-01","s":"新加坡掉期","v":700},{"d":"2017-02-01","s":"新加坡掉期","v":760},{"d":"2017-03-16","s":"新加坡掉期","v":730},{"d":"2017-05-01","s":"新加坡掉期","v":520},{"d":"2017-06-16","s":"新加坡掉期","v":590},{"d":"2017-08-16","s":"新加坡掉期","v":740},{"d":"2017-10-01","s":"新加坡掉期","v":620},{"d":"2017-12-16","s":"新加坡掉期","v":640},{"d":"2018-03-01","s":"新加坡掉期","v":620},{"d":"2018-05-16","s":"新加坡掉期","v":560},{"d":"2018-08-01","s":"新加坡掉期","v":600},{"d":"2018-10-01","s":"新加坡掉期","v":650},{"d":"2018-12-01","s":"新加坡掉期","v":640},{"d":"2019-01-16","s":"新加坡掉期","v":700},{"d":"2019-04-01","s":"新加坡掉期","v":800},{"d":"2019-06-01","s":"新加坡掉期","v":920},{"d":"2019-07-16","s":"新加坡掉期","v":900},{"d":"2019-09-06","s":"新加坡掉期","v":760},
{"d":"2012-01-01","s":"巴西矿","v":1100},{"d":"2012-02-16","s":"巴西矿","v":1120},{"d":"2012-04-16","s":"巴西矿","v":1160},{"d":"2012-06-01","s":"巴西矿","v":1120},{"d":"2012-07-16","s":"巴西矿","v":1040},{"d":"2012-09-01","s":"巴西矿","v":910},{"d":"2012-10-01","s":"巴西矿","v":810},{"d":"2012-11-01","s":"巴西矿","v":930},{"d":"2012-12-16","s":"巴西矿","v":960},{"d":"2013-01-16","s":"巴西矿","v":1220},{"d":"2013-02-01","s":"巴西矿","v":1250},{"d":"2013-03-01","s":"巴西矿","v":1100},{"d":"2013-04-16","s":"巴西矿","v":1025},{"d":"2013-06-16","s":"巴西矿","v":890},{"d":"2013-08-01","s":"巴西矿","v":1005},{"d":"2013-10-16","s":"巴西矿","v":1005},{"d":"2014-01-01","s":"巴西矿","v":1025},{"d":"2014-02-16","s":"巴西矿","v":985},{"d":"2014-04-16","s":"巴西矿","v":910},{"d":"2014-07-01","s":"巴西矿","v":770},{"d":"2014-09-01","s":"巴西矿","v":700},{"d":"2014-11-16","s":"巴西矿","v":640},{"d":"2015-02-01","s":"巴西矿","v":540},{"d":"2015-04-16","s":"巴西矿","v":500},{"d":"2015-07-01","s":"巴西矿","v":520},{"d":"2015-09-01","s":"巴西矿","v":480},{"d":"2015-11-01","s":"巴西矿","v":425},{"d":"2015-12-16","s":"巴西矿","v":370},{"d":"2016-02-16","s":"巴西矿","v":520},{"d":"2016-03-16","s":"巴西矿","v":540},{"d":"2016-05-16","s":"巴西矿","v":405},{"d":"2016-08-01","s":"巴西矿","v":500},{"d":"2016-10-16","s":"巴西矿","v":620},{"d":"2016-12-01","s":"巴西矿","v":770},{"d":"2017-02-01","s":"巴西矿","v":790},{"d":"2017-03-16","s":"巴西矿","v":770},{"d":"2017-05-01","s":"巴西矿","v":580},{"d":"2017-06-16","s":"巴西矿","v":640},{"d":"2017-08-16","s":"巴西矿","v":810},{"d":"2017-10-01","s":"巴西矿","v":680},{"d":"2017-12-16","s":"巴西矿","v":680},{"d":"2018-03-01","s":"巴西矿","v":680},{"d":"2018-05-16","s":"巴西矿","v":660},{"d":"2018-08-01","s":"巴西矿","v":770},{"d":"2018-10-01","s":"巴西矿","v":790},{"d":"2018-12-01","s":"巴西矿","v":700},{"d":"2019-01-16","s":"巴西矿","v":750},{"d":"2019-04-01","s":"巴西矿","v":870},{"d":"2019-06-01","s":"巴西矿","v":950},{"d":"2019-07-16","s":"巴西矿","v":940},{"d":"2019-09-06","s":"巴西矿","v":790}
      ]},
      "mark":{"type":"line","strokeJoin":"round","strokeWidth":2},
      "encoding":{
        "x":{"field":"d","type":"temporal","scale":{"domain":[{"year":2012,"month":1,"date":1},{"year":2019,"month":9,"date":6}],"range":[43,300]},
             "axis":{"orient":"bottom","offset":-94,"format":"%y-%m","labelAngle":-45,
               "values":[{"year":2012,"month":1,"date":1},{"year":2012,"month":6,"date":1},{"year":2012,"month":11,"date":1},{"year":2013,"month":4,"date":1},{"year":2013,"month":9,"date":1},{"year":2014,"month":2,"date":1},{"year":2014,"month":7,"date":1},{"year":2014,"month":12,"date":1},{"year":2015,"month":5,"date":1},{"year":2015,"month":10,"date":1},{"year":2016,"month":3,"date":1},{"year":2016,"month":8,"date":1},{"year":2017,"month":1,"date":1},{"year":2017,"month":6,"date":1},{"year":2017,"month":11,"date":1},{"year":2018,"month":4,"date":1},{"year":2018,"month":9,"date":1},{"year":2019,"month":2,"date":1},{"year":2019,"month":7,"date":1}]}},
        "y":{"field":"v","type":"quantitative","scale":{"domain":[0,1400],"range":[136,16],"nice":false},"axis":{"orient":"left","offset":-43,"format":"d","values":[0,200,400,600,800,1000,1200,1400]}},
        "color":{"field":"s","type":"nominal","scale":{"domain":["唐山铁精粉","印度粉","巴西矿","澳洲矿","新加坡掉期"],"range":["#C00000","#D9D9D9","#F26666","#BFBFBF","#F4A3A3"]},"legend":{"orient":"none","legendX":13,"legendY":167,"columns":3,"gridAlign":"all","direction":"horizontal","symbolSize":1024,"labelOffset":4,"columnPadding":6,"rowPadding":-10}},
        "strokeDash":{"field":"s","type":"nominal","scale":{"domain":["唐山铁精粉","印度粉","巴西矿","澳洲矿","新加坡掉期"],"range":[[1,0],[1,0],[1,0],[1,0],[5,4]]},"legend":{"orient":"none","legendX":13,"legendY":167,"columns":3,"gridAlign":"all","direction":"horizontal","symbolSize":1024,"labelOffset":4,"columnPadding":6,"rowPadding":-10}}
      }},
     {"width":319,"height":1,"view":{"fill":"#808080"},"data":{"values":[]},"mark":"point"},
     {"width":319,"height":28,"data":{"values":[{"t":"资料来源： Wind, 川财证券研究所；数据截止至 2019 年 9 月 6 日"}]},"mark":{"type":"text","align":"left","baseline":"middle","dx":8,"font":"Noto Sans CJK SC","fontSize":10.5,"fontStyle":"italic","color":"#333333"},"encoding":{"text":{"field":"t"},"x":{"datum":0,"scale":{"domain":[0,1]},"axis":null}}}
   ],"spacing":0,"resolve":{"scale":{"color":"independent","strokeWidth":"independent","strokeDash":"independent"},"legend":{"color":"independent","strokeWidth":"independent","strokeDash":"independent"}}},
   {"width":16,"height":287,"data":{"values":[]},"mark":"point"},
   {"vconcat":[
     {"width":319,"height":1,"view":{"fill":"#595959"},"data":{"values":[]},"mark":"point"},
     {"width":319,"height":26,"data":{"values":[{"t":"图 6：山西焦炭价格变动"}]},"mark":{"type":"text","align":"left","baseline":"middle","dx":8,"font":"Noto Sans CJK SC","fontSize":14,"fontWeight":"bold","color":"#000000"},"encoding":{"text":{"field":"t"},"x":{"datum":0,"scale":{"domain":[0,1]},"axis":null}}},
     {"width":319,"height":1,"view":{"fill":"#D04040"},"data":{"values":[]},"mark":"point"},
     {"width":319,"height":230,
      "data":{"values":[
{"d":"2012-01-01","s":"山西焦炭","v":1790},{"d":"2012-04-01","s":"山西焦炭","v":1790},{"d":"2012-05-01","s":"山西焦炭","v":1757},{"d":"2012-06-01","s":"山西焦炭","v":1723},{"d":"2012-07-16","s":"山西焦炭","v":1555},{"d":"2012-08-01","s":"山西焦炭","v":1387},{"d":"2012-09-01","s":"山西焦炭","v":1085},{"d":"2012-10-16","s":"山西焦炭","v":1219},{"d":"2012-11-16","s":"山西焦炭","v":1387},{"d":"2012-12-16","s":"山西焦炭","v":1407},{"d":"2013-02-01","s":"山西焦炭","v":1454},{"d":"2013-02-16","s":"山西焦炭","v":1420},{"d":"2013-03-16","s":"山西焦炭","v":1219},{"d":"2013-05-16","s":"山西焦炭","v":1118},{"d":"2013-07-16","s":"山西焦炭","v":1004},{"d":"2013-08-16","s":"山西焦炭","v":1100},{"d":"2013-11-01","s":"山西焦炭","v":1152},{"d":"2013-12-16","s":"山西焦炭","v":1186},{"d":"2014-02-01","s":"山西焦炭","v":1051},{"d":"2014-03-01","s":"山西焦炭","v":849},{"d":"2014-06-01","s":"山西焦炭","v":849},{"d":"2014-08-16","s":"山西焦炭","v":836},{"d":"2014-12-01","s":"山西焦炭","v":836},{"d":"2015-02-01","s":"山西焦炭","v":749},{"d":"2015-04-16","s":"山西焦炭","v":668},{"d":"2015-06-01","s":"山西焦炭","v":668},{"d":"2015-08-16","s":"山西焦炭","v":614},{"d":"2015-10-16","s":"山西焦炭","v":600},{"d":"2015-12-01","s":"山西焦炭","v":513},{"d":"2016-01-16","s":"山西焦炭","v":480},{"d":"2016-03-01","s":"山西焦炭","v":490},{"d":"2016-04-16","s":"山西焦炭","v":581},{"d":"2016-05-16","s":"山西焦炭","v":883},{"d":"2016-06-16","s":"山西焦炭","v":816},{"d":"2016-07-16","s":"山西焦炭","v":749},{"d":"2016-08-16","s":"山西焦炭","v":780},{"d":"2016-09-16","s":"山西焦炭","v":1152},{"d":"2016-10-16","s":"山西焦炭","v":1286},{"d":"2016-11-01","s":"山西焦炭","v":1700},{"d":"2016-11-16","s":"山西焦炭","v":1880},{"d":"2016-12-16","s":"山西焦炭","v":1757},{"d":"2017-02-01","s":"山西焦炭","v":1555},{"d":"2017-02-16","s":"山西焦炭","v":1421},{"d":"2017-03-16","s":"山西焦炭","v":1757},{"d":"2017-05-01","s":"山西焦炭","v":1622},{"d":"2017-06-01","s":"山西焦炭","v":1421},{"d":"2017-07-01","s":"山西焦炭","v":1589},{"d":"2017-08-16","s":"山西焦炭","v":1891},{"d":"2017-09-16","s":"山西焦炭","v":2093},{"d":"2017-10-01","s":"山西焦炭","v":1925},{"d":"2017-11-01","s":"山西焦炭","v":1488},{"d":"2017-12-01","s":"山西焦炭","v":1723},{"d":"2018-01-01","s":"山西焦炭","v":2180},{"d":"2018-02-01","s":"山西焦炭","v":1622},{"d":"2018-02-16","s":"山西焦炭","v":1790},{"d":"2018-03-16","s":"山西焦炭","v":1589},{"d":"2018-04-01","s":"山西焦炭","v":1555},{"d":"2018-05-16","s":"山西焦炭","v":1925},{"d":"2018-06-01","s":"山西焦炭","v":2180},{"d":"2018-07-16","s":"山西焦炭","v":1857},{"d":"2018-08-16","s":"山西焦炭","v":2462},{"d":"2018-09-16","s":"山西焦炭","v":2294},{"d":"2018-10-16","s":"山西焦炭","v":2429},{"d":"2018-11-16","s":"山西焦炭","v":2025},{"d":"2018-12-16","s":"山西焦炭","v":1857},{"d":"2019-02-16","s":"山西焦炭","v":1891},{"d":"2019-03-16","s":"山西焦炭","v":1656},{"d":"2019-04-16","s":"山西焦炭","v":1824},{"d":"2019-05-16","s":"山西焦炭","v":1992},{"d":"2019-07-01","s":"山西焦炭","v":1689},{"d":"2019-07-16","s":"山西焦炭","v":1824},{"d":"2019-08-01","s":"山西焦炭","v":1938},{"d":"2019-09-06","s":"山西焦炭","v":1844}
      ]},
      "mark":{"type":"line","strokeJoin":"round","strokeWidth":2.5},
      "encoding":{
        "x":{"field":"d","type":"temporal","scale":{"domain":[{"year":2012,"month":1,"date":1},{"year":2019,"month":9,"date":6}],"range":[46,302]},
             "axis":{"orient":"bottom","offset":-67,"format":"%y-%m","labelAngle":-45,
               "values":[{"year":2012,"month":1,"date":1},{"year":2012,"month":6,"date":1},{"year":2012,"month":11,"date":1},{"year":2013,"month":4,"date":1},{"year":2013,"month":9,"date":1},{"year":2014,"month":2,"date":1},{"year":2014,"month":7,"date":1},{"year":2014,"month":12,"date":1},{"year":2015,"month":5,"date":1},{"year":2015,"month":10,"date":1},{"year":2016,"month":3,"date":1},{"year":2016,"month":8,"date":1},{"year":2017,"month":1,"date":1},{"year":2017,"month":6,"date":1},{"year":2017,"month":11,"date":1},{"year":2018,"month":4,"date":1},{"year":2018,"month":9,"date":1},{"year":2019,"month":2,"date":1},{"year":2019,"month":7,"date":1}]}},
        "y":{"field":"v","type":"quantitative","scale":{"domain":[0,3000],"range":[163,15],"nice":false},"axis":{"orient":"left","offset":-46,"format":"d","values":[0,500,1000,1500,2000,2500,3000]}},
        "color":{"field":"s","type":"nominal","scale":{"domain":["山西焦炭"],"range":["#D7261E"]},"legend":{"orient":"none","legendX":127,"legendY":197,"direction":"horizontal","symbolSize":676,"labelOffset":0}}
      }},
     {"width":319,"height":1,"view":{"fill":"#808080"},"data":{"values":[]},"mark":"point"},
     {"width":319,"height":28,"data":{"values":[{"t":"资料来源：Wind, 川财证券研究所；数据截止至 2019 年 9 月 6 日"}]},"mark":{"type":"text","align":"left","baseline":"middle","dx":8,"font":"Noto Sans CJK SC","fontSize":10.5,"fontStyle":"italic","color":"#333333"},"encoding":{"text":{"field":"t"},"x":{"datum":0,"scale":{"domain":[0,1]},"axis":null}}}
   ],"spacing":0,"resolve":{"scale":{"color":"independent","strokeWidth":"independent","strokeDash":"independent"},"legend":{"color":"independent","strokeWidth":"independent","strokeDash":"independent"}}}
 ],"spacing":0,"resolve":{"scale":{"color":"independent","strokeWidth":"independent","strokeDash":"independent"},"legend":{"color":"independent","strokeWidth":"independent","strokeDash":"independent"}}},
 {"width":800,"height":111,"data":{"values":[]},"mark":"point"},
 {"hconcat":[
   {"width":183,"height":20,"data":{"values":[]},"mark":"point"},
   {"width":385,"height":20,"data":{"values":[{"t":"本报告由川财证券有限责任公司编制  谨请参阅尾页的重要声明"}]},"mark":{"type":"text","align":"center","baseline":"middle","font":"Noto Sans CJK SC","fontSize":14,"color":"#6E6E6E"},"encoding":{"text":{"field":"t"}}}
 ],"spacing":0},
 {"hconcat":[
   {"width":373,"height":20,"data":{"values":[]},"mark":"point"},
   {"width":69,"height":20,"view":{"fill":"#C00000"},"data":{"values":[{"t":"5/19"}]},"mark":{"type":"text","align":"center","baseline":"middle","font":"Liberation Sans","fontSize":13,"fontWeight":"bold","color":"#FFFFFF"},"encoding":{"text":{"field":"t"}}}
 ],"spacing":0}
]
}
